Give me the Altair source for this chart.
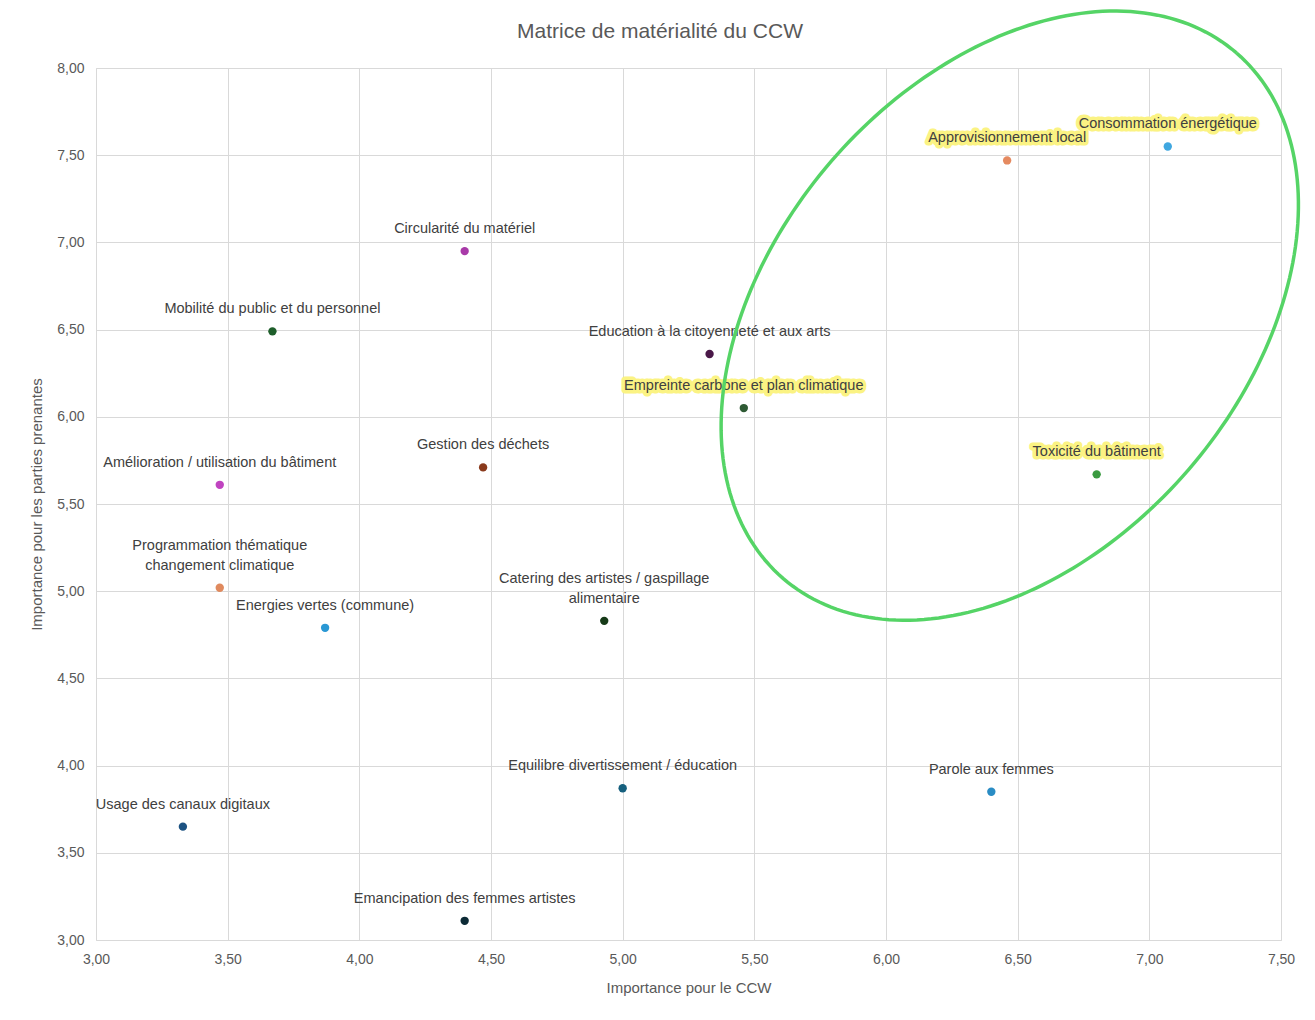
import altair as alt
import pandas as pd
import numpy as np

labels = [
    "Consommation énergétique",
    "Approvisionnement local",
    "Circularité du matériel",
    "Mobilité du public et du personnel",
    "Education à la citoyenneté et aux arts",
    "Empreinte carbone et plan climatique",
    "Gestion des déchets",
    "Toxicité du bâtiment",
    "Amélioration / utilisation du bâtiment",
    "Programmation thématique\nchangement climatique",
    "Energies vertes (commune)",
    "Catering des artistes / gaspillage\nalimentaire",
    "Equilibre divertissement / éducation",
    "Parole aux femmes",
    "Usage des canaux digitaux",
    "Emancipation des femmes artistes",
]
x_vals = [7.07, 6.46, 4.40, 3.67, 5.33, 5.46, 4.47, 6.80, 3.47, 3.47, 3.87, 4.93, 5.00, 6.40, 3.33, 4.40]
y_vals = [7.55, 7.47, 6.95, 6.49, 6.36, 6.05, 5.71, 5.67, 5.61, 5.02, 4.79, 4.83, 3.87, 3.85, 3.65, 3.11]
colors = [
    "#3fa7e0", "#e58a60", "#a83aa8", "#1e5e2a", "#4a1848", "#2e5a34",
    "#8a3a1c", "#3a9a40", "#c044c0", "#e08a5e", "#2a98d4", "#163a18",
    "#16607e", "#2a8cc4", "#1c5282", "#0c2a36",
]
highlight = [True, True, False, False, False, True, False, True,
             False, False, False, False, False, False, False, False]
chart_title = "Matrice de matérialité du CCW"

df = pd.DataFrame({"label": labels, "x": x_vals, "y": y_vals, "hl": highlight})
df["multi"] = df["label"].str.contains("\n")

# Ellipse annotation (center, semi-axes in plot pixels, tilt)
ell_cx, ell_cy = 6.47, 6.58
ell_a_px, ell_b_px, ell_theta_deg = 347, 236, 49.2
x_per_px = 4.5 / 1185
y_per_px = 5.0 / 872
t = np.linspace(0, 2 * np.pi, 241)
th = np.radians(ell_theta_deg)
dx = ell_a_px * np.cos(th) * np.cos(t) - ell_b_px * np.sin(th) * np.sin(t)
dy = ell_a_px * np.sin(th) * np.cos(t) + ell_b_px * np.cos(th) * np.sin(t)
ell = pd.DataFrame({"x": ell_cx + dx * x_per_px, "y": ell_cy + dy * y_per_px, "o": np.arange(len(t))})

FONT = "Liberation Sans"
GRAY = "#595959"
label_expr = "replace(format(datum.value, '.2f'), '.', ',')"

xs = alt.Scale(domain=[3, 7.5], nice=False, zero=False)
ys = alt.Scale(domain=[3, 8], nice=False, zero=False)

xenc = alt.X("x:Q", scale=xs, axis=alt.Axis(
    title="Importance pour le CCW", values=[3 + 0.5 * i for i in range(10)],
    labelExpr=label_expr, grid=True, gridColor="#d9d9d9", domain=False, ticks=False,
    labelFlush=False, labelOverlap=False,
    labelPadding=12, titlePadding=14, labelFontSize=14, titleFontSize=15,
    labelColor=GRAY, titleColor=GRAY, labelFont=FONT, titleFont=FONT, titleFontWeight="normal"))
yenc = alt.Y("y:Q", scale=ys, axis=alt.Axis(
    title="Importance pour les parties prenantes", values=[3 + 0.5 * i for i in range(11)],
    labelExpr=label_expr, grid=True, gridColor="#d9d9d9", domain=False, ticks=False,
    labelFlush=False, labelOverlap=False,
    labelPadding=12, titlePadding=12, labelFontSize=14, titleFontSize=15,
    labelColor=GRAY, titleColor=GRAY, labelFont=FONT, titleFont=FONT, titleFontWeight="normal"))

base = alt.Chart(df)

points = base.mark_circle(size=70, opacity=1).encode(
    x=xenc, y=yenc,
    color=alt.Color("label:N", scale=alt.Scale(domain=labels, range=colors), legend=None),
)

hl_text = base.transform_filter("datum.hl").mark_text(
    baseline="bottom", dy=-15, fontSize=14.5, font=FONT,
    color="#fbf383", stroke="#fbf383", strokeWidth=7, strokeJoin="round",
).encode(x="x:Q", y="y:Q", text="label:N")

text_single = base.transform_filter("!datum.multi").mark_text(
    baseline="bottom", dy=-15, fontSize=14.5, font=FONT, color="#404040",
).encode(x="x:Q", y="y:Q", text="label:N")

text_multi = base.transform_filter("datum.multi").mark_text(
    baseline="bottom", dy=-35, fontSize=14.5, font=FONT, lineBreak="\n", lineHeight=20,
    color="#404040",
).encode(x="x:Q", y="y:Q", text="label:N")

ellipse = alt.Chart(ell).mark_line(color="#55d466", strokeWidth=3.5).encode(
    x="x:Q", y="y:Q", order="o:Q")

title = alt.Chart(pd.DataFrame({"t": [chart_title]})).mark_text(
    fontSize=21, font=FONT, color=GRAY, baseline="middle", align="center",
).encode(x=alt.value(564), y=alt.value(-36), text="t:N")

chart = alt.layer(hl_text, text_single, text_multi, points, ellipse, title).properties(
    width=1185, height=872,
    autosize=alt.AutoSizeParams(type="none"),
    padding={"left": 88, "top": 60, "right": 20, "bottom": 60},
).configure_view(stroke=None).configure(background="white")

chart.save("out.html", embed_options={"renderer": "svg", "actions": False})
